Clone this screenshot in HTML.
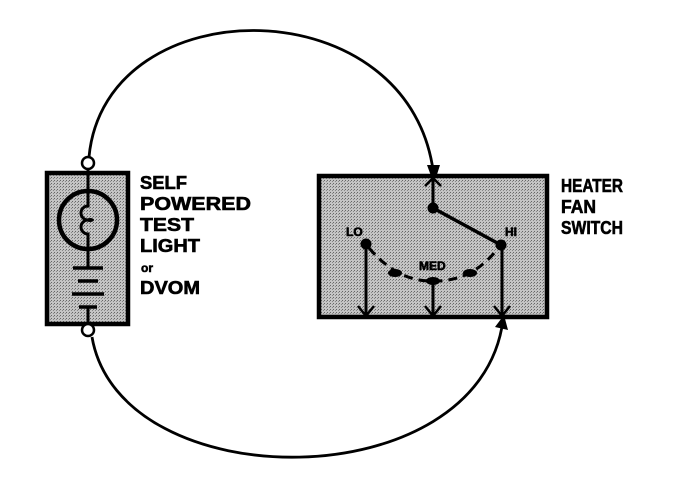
<!DOCTYPE html>
<html><head><style>
html,body{margin:0;padding:0;background:#fff;}
svg{display:block;}
text{font-family:"Liberation Sans",Arial,sans-serif;font-weight:bold;fill:#000;stroke:#000;stroke-width:0.6;}
</style></head><body>
<svg width="688" height="490" viewBox="0 0 688 490" xmlns="http://www.w3.org/2000/svg">
<defs>
<pattern id="dots" width="3" height="3" patternUnits="userSpaceOnUse">
<rect width="3" height="3" fill="#c4c4c4"/>
<rect width="1" height="1" fill="#666"/>
<rect x="2" y="1" width="1" height="1" fill="#888"/>
</pattern>
</defs>
<path d="M89,157 C105,-15 415,-15 434,178" fill="none" stroke="#000" stroke-width="2.8"/>
<path d="M92,337 C120,500 480,500 503,320" fill="none" stroke="#000" stroke-width="2.8"/>
<polygon points="427,165 440,165 434,184" fill="#000"/>
<polygon points="495,327 508,330 504,315" fill="#000"/>
<rect x="47" y="173" width="81" height="151" fill="url(#dots)" stroke="#000" stroke-width="4.5"/>
<line x1="88" y1="168" x2="88" y2="190" stroke="#000" stroke-width="3"/>
<circle cx="88" cy="220" r="29" fill="none" stroke="#000" stroke-width="4.5"/>
<path d="M88,190 L88,206 A7,7 0 0 0 88,220 A7,7 0 0 0 88,234 L88,268" fill="none" stroke="#000" stroke-width="3"/>
<ellipse cx="90" cy="220" rx="4" ry="2" fill="#000"/>
<line x1="73" y1="268" x2="103" y2="268" stroke="#000" stroke-width="3.5"/>
<line x1="78" y1="281" x2="98" y2="281" stroke="#000" stroke-width="3.5"/>
<line x1="72" y1="294" x2="104" y2="294" stroke="#000" stroke-width="3.5"/>
<line x1="79" y1="307" x2="97" y2="307" stroke="#000" stroke-width="3.5"/>
<line x1="88" y1="307" x2="88" y2="322" stroke="#000" stroke-width="3"/>
<circle cx="88" cy="163" r="6" fill="#fff" stroke="#000" stroke-width="2.5"/>
<circle cx="88" cy="330" r="6" fill="#fff" stroke="#000" stroke-width="2.5"/>
<g font-size="18">
<text x="140" y="189" textLength="47" lengthAdjust="spacingAndGlyphs">SELF</text>
<text x="140" y="210" textLength="111" lengthAdjust="spacingAndGlyphs">POWERED</text>
<text x="140" y="231" textLength="54" lengthAdjust="spacingAndGlyphs">TEST</text>
<text x="140" y="252" textLength="60" lengthAdjust="spacingAndGlyphs">LIGHT</text>
<text x="141" y="272" font-size="12">or</text>
<text x="140" y="294" textLength="60" lengthAdjust="spacingAndGlyphs">DVOM</text>
</g>
<rect x="319" y="176" width="228" height="141" fill="url(#dots)" stroke="#000" stroke-width="4.5"/>
<line x1="433" y1="178" x2="433" y2="208" stroke="#000" stroke-width="3"/>
<line x1="433" y1="208" x2="501" y2="245" stroke="#000" stroke-width="3.5"/>
<line x1="366" y1="244" x2="366" y2="316" stroke="#000" stroke-width="3"/>
<line x1="433" y1="282" x2="433" y2="316" stroke="#000" stroke-width="3"/>
<line x1="502" y1="246" x2="502" y2="316" stroke="#000" stroke-width="3"/>
<path d="M369,248 Q398,282 433,281 Q470,282 495,252" fill="none" stroke="#000" stroke-width="3" stroke-dasharray="9,6"/>
<circle cx="433" cy="208" r="5.5" fill="#000"/>
<circle cx="366" cy="244" r="5.5" fill="#000"/>
<circle cx="501" cy="245" r="5.5" fill="#000"/>
<ellipse cx="395" cy="273" rx="7" ry="4" fill="#000"/>
<ellipse cx="433" cy="281" rx="7" ry="4" fill="#000"/>
<ellipse cx="470" cy="273" rx="7" ry="4" fill="#000"/>
<path d="M358,306 L366,316 L374,306 M425,306 L433,316 L441,306 M494,306 L502,316 L510,306 M425,186 L433,178 L441,186" fill="none" stroke="#000" stroke-width="2.5"/>
<text x="346" y="236" font-size="12">LO</text>
<text x="419" y="270" font-size="12">MED</text>
<text x="505" y="236" font-size="12">HI</text>
<g font-size="18">
<text x="561" y="192" textLength="62" lengthAdjust="spacingAndGlyphs">HEATER</text>
<text x="561" y="213" textLength="35" lengthAdjust="spacingAndGlyphs">FAN</text>
<text x="561" y="234" textLength="62" lengthAdjust="spacingAndGlyphs">SWITCH</text>
</g>
</svg>
</body></html>
